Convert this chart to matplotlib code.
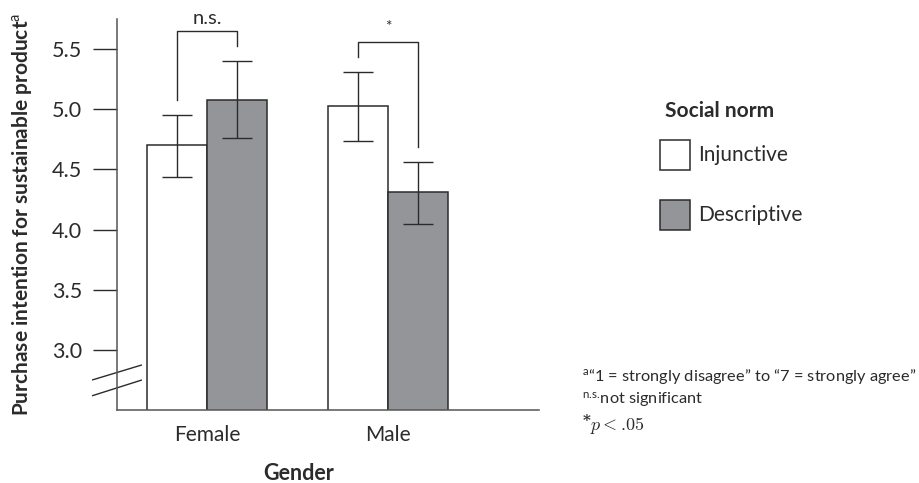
import matplotlib
matplotlib.use("Agg")
import matplotlib.pyplot as plt
import numpy as np
from matplotlib.patches import Rectangle

# ---------------------------------------------------------------------------
# Data
# ---------------------------------------------------------------------------
genders = ["Female", "Male"]
norms = ["Injunctive", "Descriptive"]
injunctive_mean = [4.70, 5.03]
descriptive_mean = [5.08, 4.31]
injunctive_lo = [4.44, 4.74]
injunctive_hi = [4.95, 5.31]
descriptive_lo = [4.76, 4.05]
descriptive_hi = [5.40, 4.56]
yticks = [3.0, 3.5, 4.0, 4.5, 5.0, 5.5]
sig_labels = ["n.s.", "*"]
# bracket: (top, left leg bottom, right leg bottom)
brackets = [(5.652, 5.08, 5.527), (5.56, 5.436, 4.689)]

plt.rcParams["font.family"] = ["Lato", "DejaVu Sans"]
plt.rcParams["mathtext.fontset"] = "custom"
plt.rcParams["mathtext.rm"] = "Lato"
plt.rcParams["mathtext.it"] = "Lato:italic"
plt.rcParams["mathtext.bf"] = "Lato:bold"

INK = "#2b2b2b"
GREY = "#939598"
AXC = "#555555"

fig = plt.figure(figsize=(9.19, 4.83), dpi=100)
ax = fig.add_axes([0.1273, 0.1511, 0.4589, 0.8096])

x = np.arange(len(genders))
w = 0.331
ax.bar(x - w / 2, injunctive_mean, w, bottom=0, color="white", edgecolor=INK, linewidth=1.1, zorder=2)
ax.bar(x + w / 2, descriptive_mean, w, bottom=0, color=GREY, edgecolor=INK, linewidth=1.1, zorder=2)

for xs, m, lo, hi in [(x - w / 2, injunctive_mean, injunctive_lo, injunctive_hi),
                      (x + w / 2, descriptive_mean, descriptive_lo, descriptive_hi)]:
    m = np.array(m)
    err = [m - np.array(lo), np.array(hi) - m]
    ax.errorbar(xs, m, yerr=err, fmt="none", ecolor=INK, elinewidth=1.0,
                capsize=10.8, capthick=1.0, zorder=3)

# significance brackets
for i, (top, lb, rb) in enumerate(brackets):
    xl, xr = x[i] - w / 2, x[i] + w / 2
    ax.plot([xl, xl, xr, xr], [lb, top, top, rb], color=INK, linewidth=1.0, clip_on=False, zorder=3)
ax.text(x[0], 5.75, sig_labels[0], ha="center", va="center", fontsize=14.5, color=INK, clip_on=False)
ax.text(x[1], 5.68, sig_labels[1], ha="center", va="center", fontsize=11, color=INK, clip_on=False)

ax.set_xlim(-0.499, 1.831)
ax.set_ylim(2.5, 5.75)
ax.set_yticks(yticks)
ax.set_yticklabels([f"{v:.1f}" for v in yticks])
ax.set_xticks(x)
ax.set_xticklabels(genders)
ax.tick_params(axis="y", length=17, width=1.0, color=INK, labelsize=15.5, pad=8, labelcolor=INK)
ax.tick_params(axis="x", length=0, labelsize=15, pad=11, labelcolor=INK)

for s in ["top", "right"]:
    ax.spines[s].set_visible(False)
for s in ["left", "bottom"]:
    ax.spines[s].set_color(AXC)
    ax.spines[s].set_linewidth(1.1)

# axis break marks
ax.plot([-0.633, -0.365], [2.751, 2.873], color=INK, linewidth=1.0, clip_on=False)
ax.plot([-0.633, -0.365], [2.620, 2.748], color=INK, linewidth=1.0, clip_on=False)

ax.set_xlabel("Gender", fontsize=15.5, fontweight="bold", labelpad=14, color=INK)
ax.set_ylabel(r"Purchase intention for sustainable product$^{\mathrm{a}}$", fontsize=15,
              fontweight="bold", color=INK)
ax.yaxis.set_label_coords(-0.196, 0.5)
ax.xaxis.set_label_coords(0.43, -0.135)

# legend
fig.text(665 / 919, 1 - 111 / 483, "Social norm", fontsize=15, fontweight="bold",
         ha="left", va="center", color=INK)
for j, (lab, col) in enumerate(zip(norms, ["white", GREY])):
    yc = 155 + 60 * j
    fig.patches.append(Rectangle((660 / 919, 1 - (yc + 15) / 483), 30 / 919, 30 / 483,
                                 transform=fig.transFigure, facecolor=col, edgecolor=INK,
                                 linewidth=1.1))
    fig.text(698 / 919, 1 - yc / 483, lab, fontsize=15, ha="left", va="center", color=INK)

# footnotes
fig.text(582 / 919, 1 - 377 / 483, r"$^{\mathrm{a}}$“1 = strongly disagree” to “7 = strongly agree”",
         fontsize=11.8, ha="left", va="center", color=INK)
fig.text(582 / 919, 1 - 401 / 483, r"$^{\mathrm{n.\!s.\!}}$not significant",
         fontsize=11.8, ha="left", va="center", color=INK)
fig.text(583 / 919, 1 - 421 / 483, "*", fontsize=11, fontweight="bold", family="DejaVu Serif",
         ha="left", va="center", color=INK)
fig.text(590 / 919, 1 - 426 / 483, r"$p < .\!05$", fontsize=13, ha="left", va="center",
         color=INK, math_fontfamily="cm")

fig.savefig("out.png", dpi=100)
